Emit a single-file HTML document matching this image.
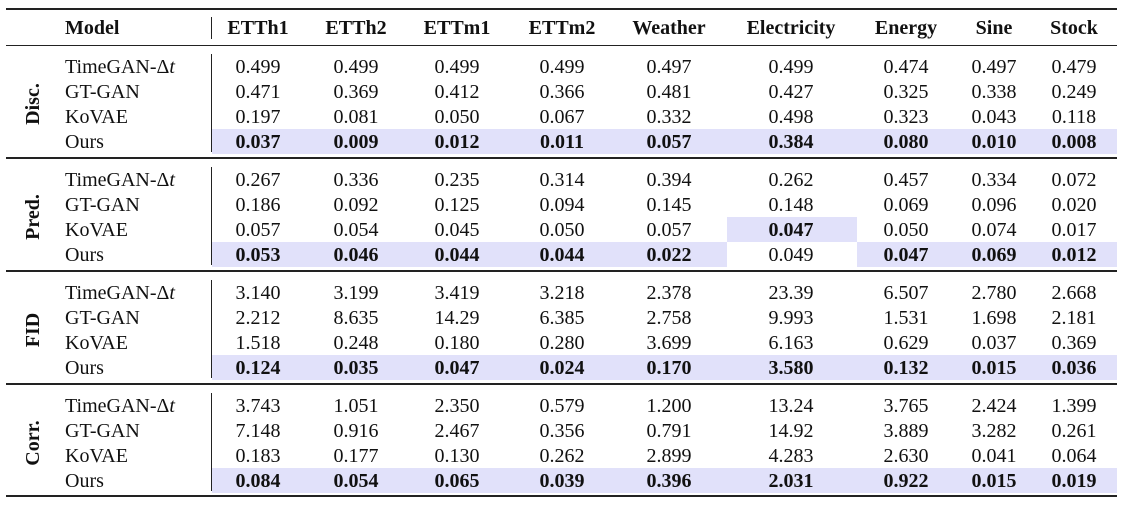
<!DOCTYPE html>
<html><head><meta charset="utf-8">
<style>
body{margin:0;background:#fff;}
#t{position:relative;width:1125px;height:505px;overflow:hidden;font-family:"Liberation Serif","DejaVu Serif",serif;font-size:20px;color:#111;}
.c{position:absolute;transform:translate(-50%,-50%);white-space:nowrap;line-height:1;}
.l{position:absolute;transform:translateY(-50%);white-space:nowrap;line-height:1;}
.r{position:absolute;background:#222;}
.h{position:absolute;background:#e1e1fa;}
.b{font-weight:bold;}
.g{position:absolute;transform:translate(-50%,-50%) rotate(-90deg);font-weight:bold;white-space:nowrap;line-height:1;}
</style></head><body>
<div id="t"></div>
<script>
const columns=["ETTh1","ETTh2","ETTm1","ETTm2","Weather","Electricity","Energy","Sine","Stock"];
const models=["TimeGAN-Δ<i>t</i>","GT-GAN","KoVAE","Ours"];
const groups=["Disc.","Pred.","FID","Corr."];
const discVals=[["0.499","0.499","0.499","0.499","0.497","0.499","0.474","0.497","0.479"],["0.471","0.369","0.412","0.366","0.481","0.427","0.325","0.338","0.249"],["0.197","0.081","0.050","0.067","0.332","0.498","0.323","0.043","0.118"],["0.037","0.009","0.012","0.011","0.057","0.384","0.080","0.010","0.008"]];
const predVals=[["0.267","0.336","0.235","0.314","0.394","0.262","0.457","0.334","0.072"],["0.186","0.092","0.125","0.094","0.145","0.148","0.069","0.096","0.020"],["0.057","0.054","0.045","0.050","0.057","0.047","0.050","0.074","0.017"],["0.053","0.046","0.044","0.044","0.022","0.049","0.047","0.069","0.012"]];
const fidVals=[["3.140","3.199","3.419","3.218","2.378","23.39","6.507","2.780","2.668"],["2.212","8.635","14.29","6.385","2.758","9.993","1.531","1.698","2.181"],["1.518","0.248","0.180","0.280","3.699","6.163","0.629","0.037","0.369"],["0.124","0.035","0.047","0.024","0.170","3.580","0.132","0.015","0.036"]];
const corrVals=[["3.743","1.051","2.350","0.579","1.200","13.24","3.765","2.424","1.399"],["7.148","0.916","2.467","0.356","0.791","14.92","3.889","3.282","0.261"],["0.183","0.177","0.130","0.262","2.899","4.283","2.630","0.041","0.064"],["0.084","0.054","0.065","0.039","0.396","2.031","0.922","0.015","0.019"]];
const allVals=[discVals,predVals,fidVals,corrVals];
const bestRow=[[3,3,3,3,3,3,3,3,3],[3,3,3,3,3,2,3,3,3],[3,3,3,3,3,3,3,3,3],[3,3,3,3,3,3,3,3,3]];

const T=document.getElementById('t');
const colX=[258,356,457,562,669,791,906,994,1074];
const edges=[212,307,406,509,615,727,857,950,1034,1117];
const groupTop=[52,165,278,391];
const rowH=25;
function add(cls,html,x,y,name){const d=document.createElement('div');d.className=cls;d.innerHTML=html;d.style.left=x+'px';d.style.top=y+'px';


T.appendChild(d);return d;}
function rule(x,y,w,h,name){const d=document.createElement('div');d.className='r';d.style.left=x+'px';d.style.top=y+'px';d.style.width=w+'px';d.style.height=h+'px';


T.appendChild(d);}
function hl(x,y,w,h){const d=document.createElement('div');d.className='h';d.style.left=x+'px';d.style.top=y+'px';d.style.width=w+'px';d.style.height=h+'px';


T.appendChild(d);}
groups.forEach((g,gi)=>{columns.forEach((c,ci)=>{const r=bestRow[gi][ci];const y=groupTop[gi]+r*rowH+2;hl(edges[ci],y,edges[ci+1]-edges[ci],rowH);});});
rule(6,8,1111,2,'top-rule');
rule(6,45,1111,1,'header-rule');
[157,270,383].forEach(y=>rule(6,y,1111,1.5,'group-rule'));
rule(6,495,1111,2,'bottom-rule');
rule(211,17,1,22,'header-divider');
groupTop.forEach(t=>rule(211,t+2,1.2,rowH*4-2,'column-divider'));
add('l b','Model',65,28,'model-header');
columns.forEach((c,ci)=>add('c b',c,colX[ci],28,'column-header-'+c.toLowerCase()));
groups.forEach((g,gi)=>{
  add('g',g,33,groupTop[gi]+2+rowH*2,'group-label-'+g.toLowerCase().replace('.',''));
  models.forEach((m,mi)=>{
    const y=groupTop[gi]+mi*rowH+2+rowH/2;
    add('l',m,65,y,'model-name');
    columns.forEach((c,ci)=>{const b=bestRow[gi][ci]===mi;add('c'+(b?' b':''),allVals[gi][mi][ci],colX[ci],y,'cell-value');});
  });
});
</script>
</body></html>
